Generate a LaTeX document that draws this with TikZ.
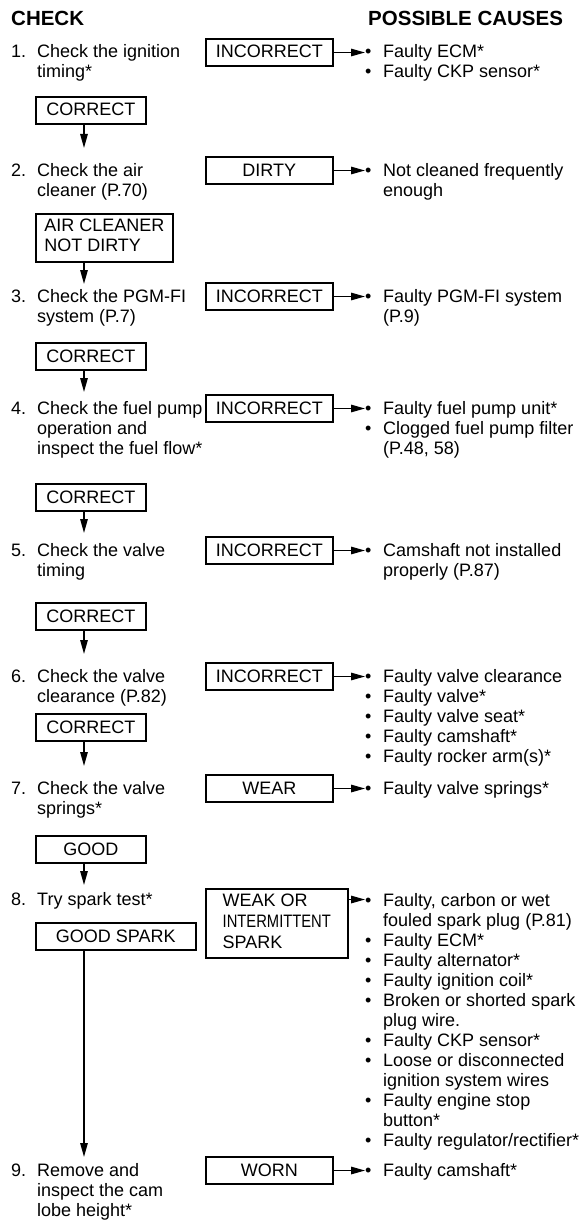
\documentclass[tikz,border=0pt]{standalone}
\usepackage{fontspec}
\usepackage{graphicx}
\setmainfont{Liberation Sans}
\usetikzlibrary{arrows.meta}
\newcommand{\bodyfont}{\fontsize{18}{20}\selectfont}
\newcommand{\bul}{\makebox[18pt][l]{\textbullet}}
\newcommand{\cont}{\hspace*{18pt}}
\newcommand{\textlines}[1]{\begin{tabular}[t]{@{}l@{}}#1\end{tabular}}

\begin{document}
\begin{tikzpicture}[x=1pt, y=-1pt,
    hd/.style={anchor=base west, inner sep=0pt, font=\bfseries\fontsize{20.5}{24}\selectfont},
    num/.style={anchor=base west, inner sep=0pt, font=\bodyfont},
    txt/.style={anchor=base west, inner sep=0pt, font=\bodyfont},
    box/.style={draw, line width=1.6pt, anchor=base west, minimum height=27pt, text height=13pt, text depth=2pt, inner xsep=8pt, inner ysep=6pt, font=\bodyfont},
    wbox/.style={box, minimum width=127pt},
    cbox/.style={box, minimum width=110pt},
    mbox/.style={draw, line width=1.6pt, anchor=north west, align=left, inner xsep=8pt},
    arr/.style={-{Triangle[length=14pt,width=7.5pt]}, line width=1.4pt},
]
\path[use as bounding box] (0,0) rectangle (586,1228);

% Headings
\node[hd] (hcheck) at (11,26) {CHECK};
\node[hd] (hcause) at (368,26) {POSSIBLE CAUSES};

% Step 1
\node[num] (n1) at (11,58) {1.};
\node[txt] (s1) at (37,58) {\textlines{Check the ignition\\timing*}};
\node[wbox] (b1) at (205,58) {INCORRECT};
\node[txt] (k1) at (365,58) {\textlines{\bul Faulty ECM*\\\bul Faulty CKP sensor*}};
\node[cbox] (c1) at (35,116) {CORRECT};
\coordinate (t1) at (84,148);

% Step 2
\node[num] (n2) at (11,176) {2.};
\node[txt] (s2) at (37,176) {\textlines{Check the air\\cleaner (P.70)}};
\node[wbox] (b2) at (205,176) {DIRTY};
\node[txt] (k2) at (365,176) {\textlines{\bul Not cleaned frequently\\\cont enough}};
\node[mbox, inner ysep=4pt, minimum width=137pt, font=\fontsize{18}{20}\selectfont] (c2) at (35,213) {\strut AIR CLEANER\\NOT DIRTY\strut};
\coordinate (t2) at (84,284);

% Step 3
\node[num] (n3) at (11,302) {3.};
\node[txt] (s3) at (37,302) {\textlines{Check the PGM-FI\\system (P.7)}};
\node[wbox] (b3) at (205,302) {INCORRECT};
\node[txt] (k3) at (365,302) {\textlines{\bul Faulty PGM-FI system\\\cont (P.9)}};
\node[cbox] (c3) at (35,362) {CORRECT};
\coordinate (t3) at (84,392);

% Step 4
\node[num] (n4) at (11,414) {4.};
\node[txt] (s4) at (37,414) {\textlines{Check the fuel pump\\operation and\\inspect the fuel flow*}};
\node[wbox] (b4) at (205,414) {INCORRECT};
\node[txt] (k4) at (365,414) {\textlines{\bul Faulty fuel pump unit*\\\bul Clogged fuel pump filter\\\cont (P.48, 58)}};
\node[cbox] (c4) at (35,503) {CORRECT};
\coordinate (t4) at (84,533);

% Step 5
\node[num] (n5) at (11,556) {5.};
\node[txt] (s5) at (37,556) {\textlines{Check the valve\\timing}};
\node[wbox] (b5) at (205,556) {INCORRECT};
\node[txt] (k5) at (365,556) {\textlines{\bul Camshaft not installed\\\cont properly (P.87)}};
\node[cbox] (c5) at (35,622) {CORRECT};
\coordinate (t5) at (84,654);

% Step 6
\node[num] (n6) at (11,682) {6.};
\node[txt] (s6) at (37,682) {\textlines{Check the valve\\clearance (P.82)}};
\node[wbox] (b6) at (205,682) {INCORRECT};
\node[txt] (k6) at (365,682) {\textlines{\bul Faulty valve clearance\\\bul Faulty valve*\\\bul Faulty valve seat*\\\bul Faulty camshaft*\\\bul Faulty rocker arm(s)*}};
\node[cbox] (c6) at (35,733) {CORRECT};
\coordinate (t6) at (84,766);

% Step 7
\node[num] (n7) at (11,794) {7.};
\node[txt] (s7) at (37,794) {\textlines{Check the valve\\springs*}};
\node[wbox] (b7) at (205,794) {WEAR};
\node[txt] (k7) at (365,794) {\textlines{\bul Faulty valve springs*}};
\node[cbox] (c7) at (35,855) {GOOD};
\coordinate (t7) at (84,885);

% Step 8
\node[num] (n8) at (11,905) {8.};
\node[txt] (s8) at (37,905) {Try spark test*};
\node[mbox, inner ysep=3pt, minimum width=142pt, font=\fontsize{18}{21}\selectfont] (b8) at (205,888) {\strut WEAK OR\\\scalebox{0.82}[1]{INTERMITTENT}\\SPARK\strut};
\node[txt] (k8) at (365,906) {\textlines{\bul Faulty, carbon or wet\\\cont fouled spark plug (P.81)\\\bul Faulty ECM*\\\bul Faulty alternator*\\\bul Faulty ignition coil*\\\bul Broken or shorted spark\\\cont plug wire.\\\bul Faulty CKP sensor*\\\bul Loose or disconnected\\\cont ignition system wires\\\bul Faulty engine stop\\\cont button*\\\bul Faulty regulator/rectifier*}};
\coordinate (y8) at (365,899.5);
\node[box, minimum width=160pt] (c8) at (35,942) {GOOD SPARK};
\coordinate (t8) at (84,1157);

% Step 9
\node[num] (n9) at (11,1176) {9.};
\node[txt] (s9) at (37,1176) {\textlines{Remove and\\inspect the cam\\lobe height*}};
\node[wbox] (b9) at (205,1176) {WORN};
\node[txt] (k9) at (365,1176) {\textlines{\bul Faulty camshaft*}};

% Arrows to causes
\draw[arr] (b1.east) -- (k1.west |- b1.east);
\draw[arr] (b2.east) -- (k2.west |- b2.east);
\draw[arr] (b3.east) -- (k3.west |- b3.east);
\draw[arr] (b4.east) -- (k4.west |- b4.east);
\draw[arr] (b5.east) -- (k5.west |- b5.east);
\draw[arr] (b6.east) -- (k6.west |- b6.east);
\draw[arr] (b7.east) -- (k7.west |- b7.east);
\draw[arr] (b8.east |- y8) -- (y8);
\draw[arr] (b9.east) -- (k9.west |- b9.east);

% Arrows down
\draw[arr] (c1.south -| t1) -- (t1);
\draw[arr] (c2.south -| t2) -- (t2);
\draw[arr] (c3.south -| t3) -- (t3);
\draw[arr] (c4.south -| t4) -- (t4);
\draw[arr] (c5.south -| t5) -- (t5);
\draw[arr] (c6.south -| t6) -- (t6);
\draw[arr] (c7.south -| t7) -- (t7);
\draw[arr] (c8.south -| t8) -- (t8);
\end{tikzpicture}
\end{document}
